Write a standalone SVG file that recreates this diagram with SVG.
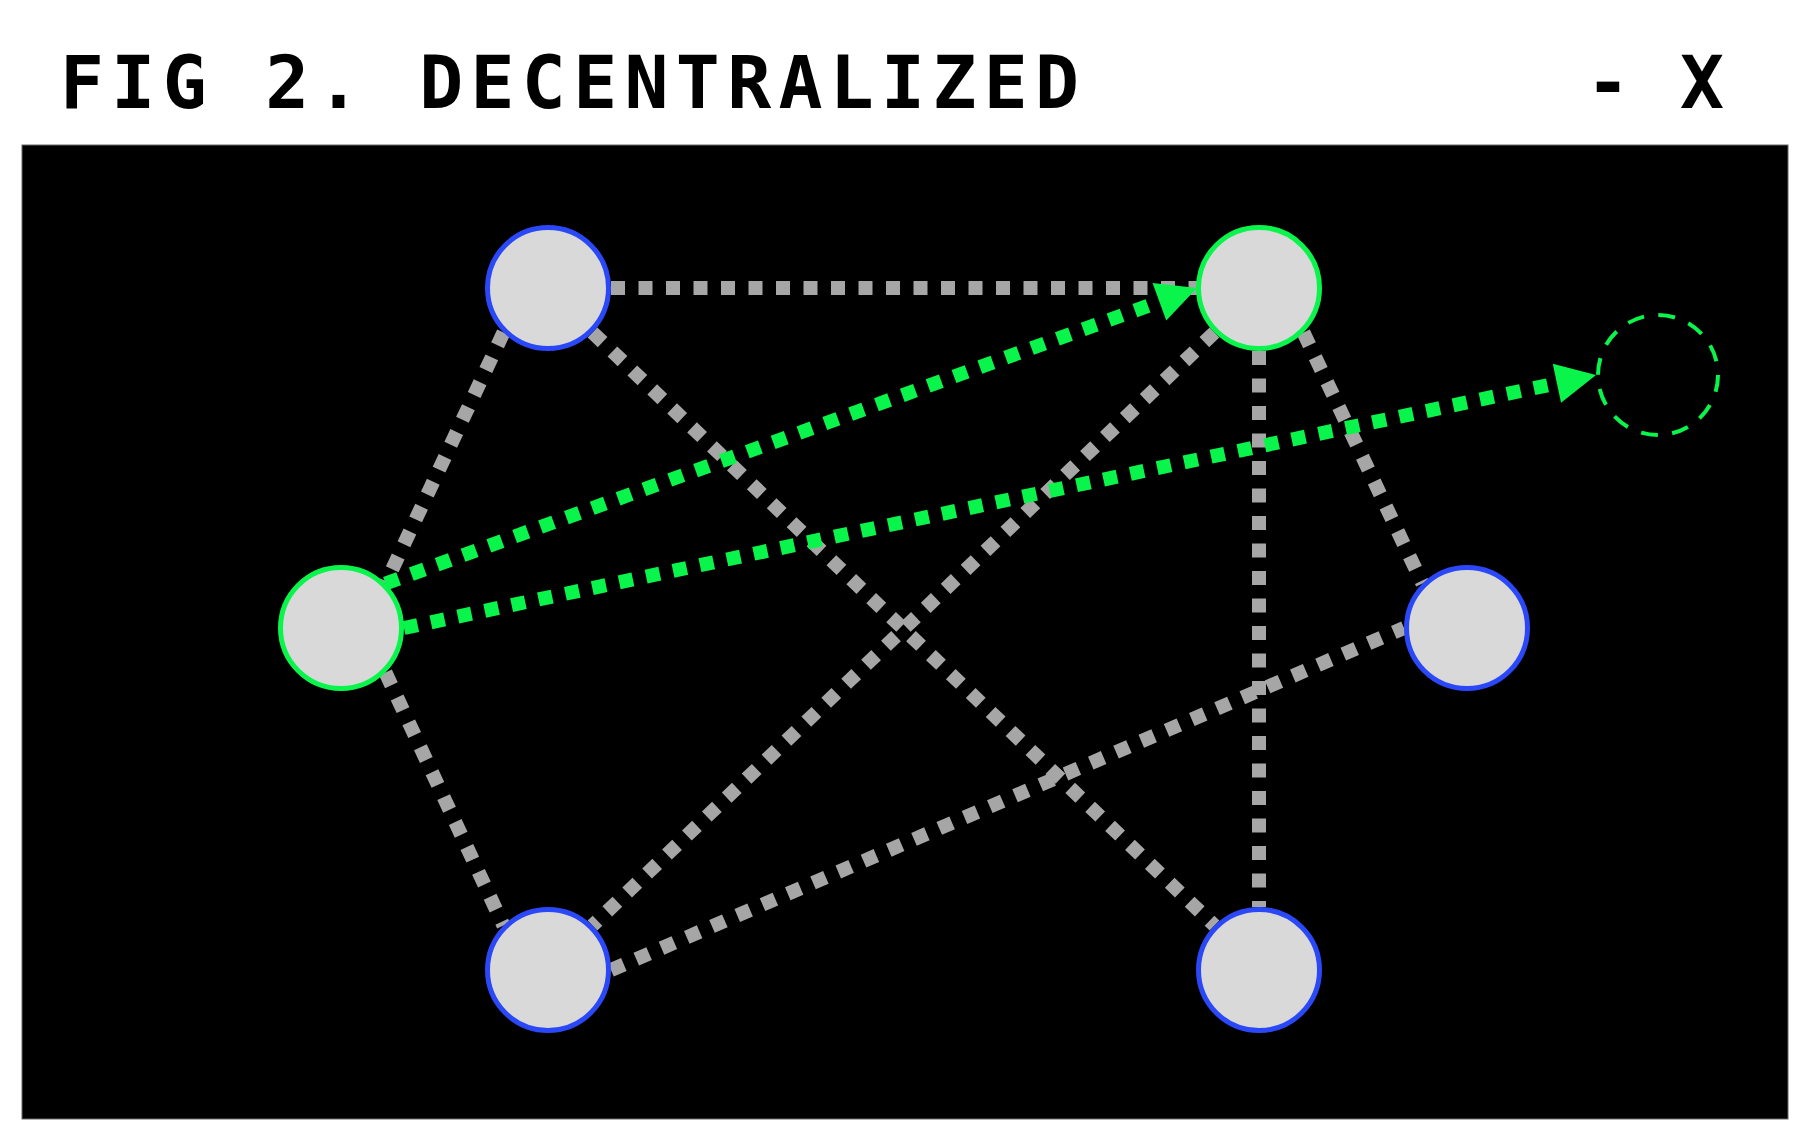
<svg xmlns="http://www.w3.org/2000/svg" width="1796" height="1127" viewBox="0 0 1796 1127">
  <style>
    .title { font-family: "DejaVu Sans Mono", "Liberation Mono", monospace; font-weight: bold; font-size: 73px; fill: #000; }
    .edge { fill: none; stroke: #a6a6a6; stroke-width: 14; stroke-dasharray: 14 13.5; }
    .flow { fill: none; stroke: #0af54b; stroke-width: 14; stroke-dasharray: 14 13.5; marker-end: url(#arrow); }
    .node { fill: #d9d9d9; stroke: #2a48f7; stroke-width: 5; }
    .node.active { stroke: #0af54b; }
    .ghost { fill: none; stroke: #0af54b; stroke-width: 4; stroke-dasharray: 17 14.4; }
  </style>
  <defs>
    <marker id="arrow" markerUnits="userSpaceOnUse" markerWidth="40" markerHeight="40" refX="0" refY="20" orient="auto" overflow="visible">
      <path d="M0,0 L40,20 L0,40 Z" fill="#0af54b"/>
    </marker>
  </defs>
  <rect x="0" y="0" width="1796" height="1127" fill="#ffffff"/>
  <g id="header">
    <text class="title" x="60" y="108" textLength="1019" lengthAdjust="spacing">FIG 2. DECENTRALIZED</text>
    <text class="title" x="1586 1633 1680" y="108">- X</text>
  </g>
  <rect id="panel" x="22" y="145" width="1766" height="974" fill="#000000" stroke="#666" stroke-width="1"/>
  <g id="connectors">
    <line class="edge" x1="611" y1="288" x2="1197" y2="288"/>
    <line class="edge" x1="503.5" y1="332.5" x2="385.5" y2="583.5"/>
    <line class="edge" x1="592.5" y1="332.5" x2="1214.5" y2="925.5"/>
    <line class="edge" x1="1214.5" y1="332.5" x2="592.5" y2="925.5"/>
    <line class="edge" x1="1259" y1="351" x2="1259" y2="907"/>
    <line class="edge" x1="1303.5" y1="332.5" x2="1422.5" y2="583.5"/>
    <line class="edge" x1="385.5" y1="672.5" x2="503.5" y2="925.5"/>
    <line class="edge" x1="611" y1="970" x2="1404" y2="628"/>
    <line class="flow" x1="385.5" y1="583.5" x2="1159.4" y2="301.7"/>
    <line class="flow" x1="404" y1="628" x2="1556.9" y2="383.3"/>
  </g>
  <g id="node-tl"><circle class="node" cx="548" cy="288" r="60.5"/></g>
  <g id="node-tr"><circle class="node active" cx="1259" cy="288" r="60.5"/></g>
  <g id="node-l"><circle class="node active" cx="341" cy="628" r="60.5"/></g>
  <g id="node-r"><circle class="node" cx="1467" cy="628" r="60.5"/></g>
  <g id="node-bl"><circle class="node" cx="548" cy="970" r="60.5"/></g>
  <g id="node-br"><circle class="node" cx="1259" cy="970" r="60.5"/></g>
  <g id="node-target"><circle class="ghost" cx="1658" cy="375" r="60"/></g>
</svg>
